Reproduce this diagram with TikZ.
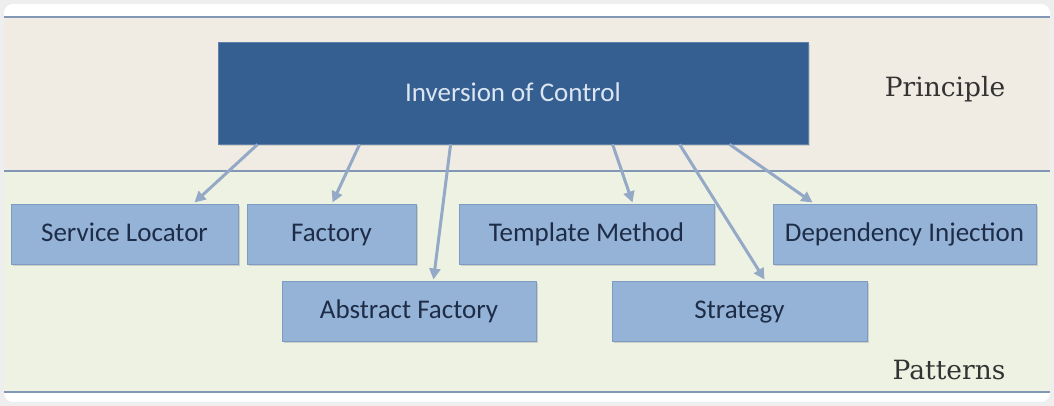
\documentclass[tikz,border=0pt]{standalone}
\usepackage{fontspec}
\setmainfont{Carlito}
\newfontfamily\slabfont{DejaVu Serif}
\usetikzlibrary{arrows.meta,shadows,calc}
\definecolor{pagebg}{HTML}{EEEEEE}
\definecolor{bandtop}{HTML}{F1ECE3}
\definecolor{bandbot}{HTML}{EEF2E3}
\definecolor{rulecol}{HTML}{8197B5}
\definecolor{mainfill}{HTML}{365F91}
\definecolor{maintext}{HTML}{DCE6F2}
\definecolor{boxfill}{HTML}{95B3D7}
\definecolor{boxline}{HTML}{7E9CC2}
\definecolor{boxtext}{HTML}{1E2D47}
\definecolor{arrowcol}{HTML}{93A9C6}
\definecolor{labeltext}{HTML}{333333}
\begin{document}
\begin{tikzpicture}[x=1pt,y=-1pt,
  mainbox/.style={draw=mainfill!80!white,line width=0.8pt,fill=mainfill,text=maintext,
    minimum width=590pt,minimum height=102pt,inner sep=0pt,font=\fontsize{27}{30}\selectfont,
    text height=21pt,text depth=4pt,
    drop shadow={opacity=0.25,shadow xshift=1.5pt,shadow yshift=-2pt}},
  patbox/.style={draw=boxline,line width=1pt,fill=boxfill,text=boxtext,
    minimum height=60pt,inner sep=0pt,font=\fontsize{27}{30}\selectfont,
    text height=20pt,text depth=5pt,
    drop shadow={opacity=0.3,shadow xshift=1.5pt,shadow yshift=-2pt}},
  bandlabel/.style={text=labeltext,font=\slabfont\fontsize{26.5}{30}\selectfont,inner sep=0pt},
  conn/.style={draw=arrowcol,line width=3pt,-{Triangle[length=11pt,width=11pt]}},
  rulel/.style={draw=rulecol,line width=2pt}]
\useasboundingbox (0,0) rectangle (1054,406);
\fill[pagebg] (0,0) rectangle (1054,406);
\fill[white,rounded corners=9pt] (4,4) rectangle (1050,402);
\fill[bandtop] (4,17) rectangle (1050,171);
\fill[bandbot] (4,171) rectangle (1050,392);
\draw[rulel] (4,17) -- (1050,17);
\draw[rulel] (4,171) -- (1050,171);
\draw[rulel] (4,392) -- (1050,392);

\node[mainbox] (ioc) at (513,93) {Inversion of Control};
\node[bandlabel] (prin) at (945,89) {Principle};
\node[bandlabel] (pat) at (949,370) {Patterns};

\node[patbox,minimum width=227pt] (sl) at (124.5,234) {Service Locator};
\node[patbox,minimum width=169pt] (fac) at (331.5,234) {Factory};
\node[patbox,minimum width=255pt] (tm) at (586.5,234) {Template Method};
\node[patbox,minimum width=263pt] (di) at (904.5,234) {Dependency Injection};
\node[patbox,minimum width=254pt] (af) at (409,311) {Abstract Factory};
\node[patbox,minimum width=255pt] (st) at (739.5,311) {Strategy};

\draw[conn] ($(ioc.south west)+(40,0)$) -- ($(sl.north west)+(184,-1)$);
\draw[conn] ($(ioc.south west)+(142,0)$) -- ($(fac.north west)+(86,-1)$);
\draw[conn] ($(ioc.south west)+(233,0)$) -- ($(af.north west)+(152,-1)$);
\draw[conn] ($(ioc.south west)+(395,0)$) -- ($(tm.north west)+(174,-1)$);
\draw[conn] ($(ioc.south west)+(462,0)$) -- ($(st.north west)+(153,-1)$);
\draw[conn] ($(ioc.south west)+(512,0)$) -- ($(di.north west)+(40,-1)$);
\end{tikzpicture}
\end{document}
